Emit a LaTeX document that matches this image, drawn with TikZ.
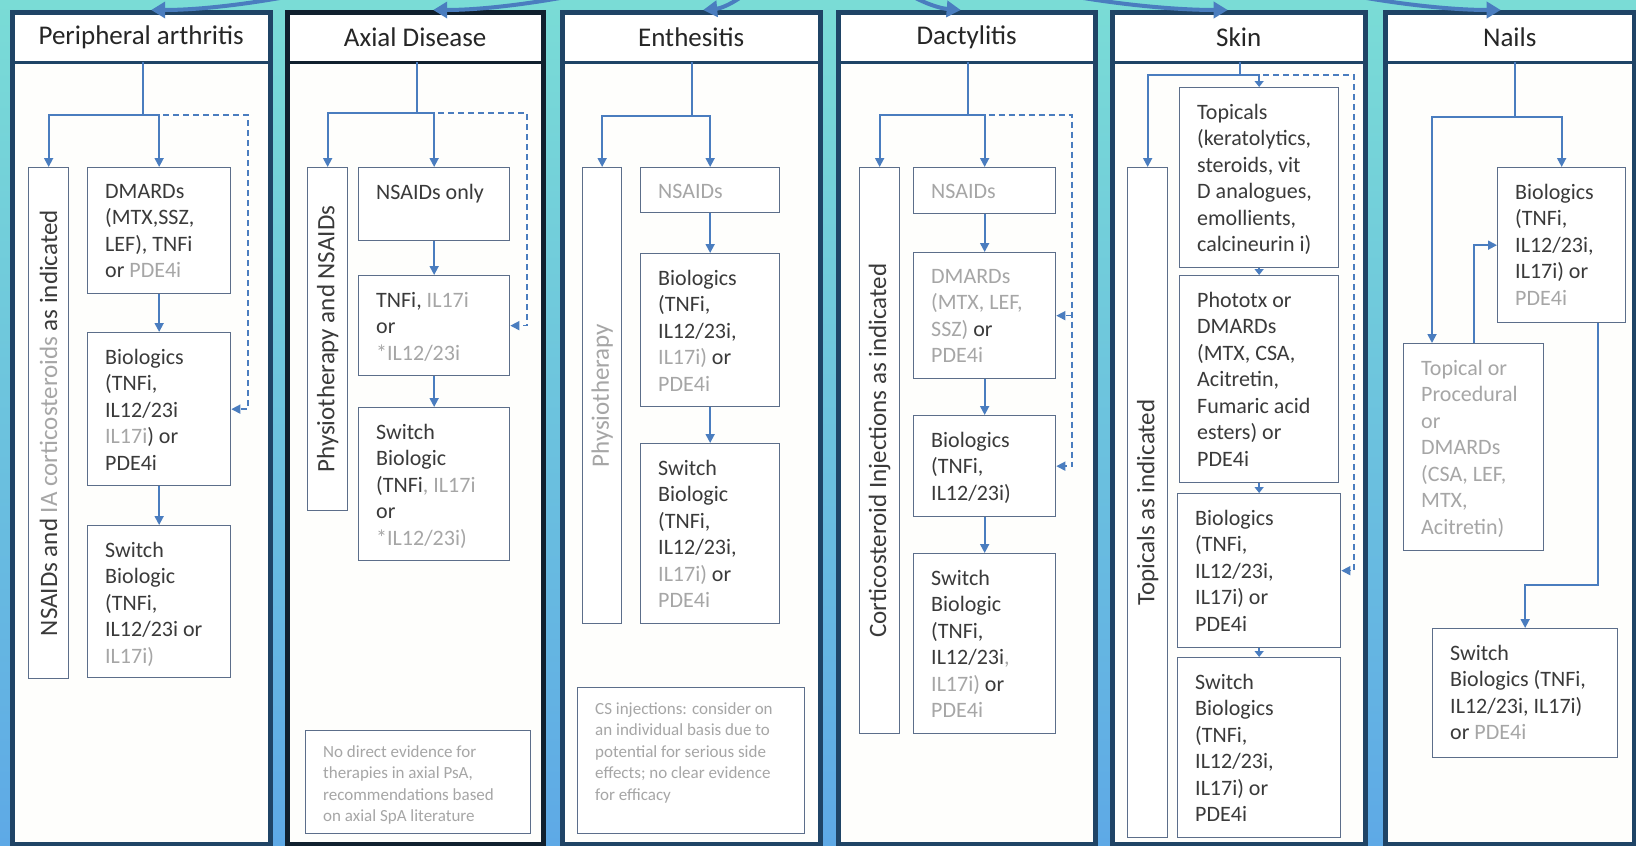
\documentclass[tikz,border=0pt]{standalone}
\usepackage{fontspec}
\setmainfont{Carlito}
\usetikzlibrary{arrows.meta,calc}
\definecolor{bgtop}{HTML}{7ADCD6}
\definecolor{bgbot}{HTML}{5EA9E6}
\definecolor{pnl}{HTML}{1F4466}
\definecolor{pnldark}{HTML}{10202E}
\definecolor{bxc}{HTML}{5C6E8A}
\definecolor{arc}{HTML}{4A7DBF}
\definecolor{tx}{HTML}{3A3A3A}
\definecolor{gr}{HTML}{A6A6A6}
\definecolor{body}{HTML}{FEFEFC}
\newcommand\tbox[6]{%
  \node[bx, minimum width={(#4)-(#2)}, minimum height={(#5)-(#3)}] (#1) at (#2,#3) {};
  \node[txt] (#1t) at ([xshift=18pt,yshift=-17pt]#1.north west) {#6};}
\newcommand\nbox[6]{%
  \node[bx, minimum width={(#4)-(#2)}, minimum height={(#5)-(#3)}] (#1) at (#2,#3) {};
  \node[notetxt] (#1t) at ([xshift=18pt,yshift=-15pt]#1.north west) {#6};}
\newcommand\vtbox[6]{%
  \node[bx, minimum width={(#4)-(#2)}, minimum height={(#5)-(#3)}] (#1) at (#2,#3) {};
  \node[vtxt] (#1t) at (#1.center) {#6};}
\newcommand\panel[5]{%
  \node[pbody, minimum width={(#3)-(#2)}, minimum height=832] (#1) at (#2,12) {};
  \node[hdr, minimum width={(#3)-(#2)}] (#1h) at (#2,12) {#4};
  \draw[draw=#5, line width=3pt] (#1h.south west) -- (#1h.south east);
  \draw[draw=#5, line width=5pt] (#1.north west) rectangle (#1.south east);}
\begin{document}
\begin{tikzpicture}[x=1pt,y=-1pt,
  pbody/.style={fill=body, anchor=north west, inner sep=0pt},
  hdr/.style={fill=white, anchor=north west, inner sep=0pt, minimum height=50pt, font=\fontsize{27}{32}\selectfont, text=black!85},
  bx/.style={draw=bxc, line width=1.3pt, fill=white, inner sep=0pt, anchor=north west},
  txt/.style={text=tx, font=\fontsize{22}{26.5}\selectfont, align=left, inner sep=0pt, anchor=north west},
  notetxt/.style={text=gr, font=\fontsize{17}{21.6}\selectfont, align=left, inner sep=0pt, anchor=north west},
  vtxt/.style={text=tx, font=\fontsize{25}{30}\selectfont, rotate=90, inner sep=0pt},
  ln/.style={draw=arc, line width=1.8pt},
  arr/.style={ln, -{Triangle[length=9pt,width=9pt]}},
  arrs/.style={ln, -{Triangle[length=6pt,width=9pt]}},
  darr/.style={draw=arc, line width=1.5pt, dash pattern=on 6pt off 4pt, -{Triangle[length=9pt,width=9pt]}},
  toparr/.style={draw=arc, line width=4pt, -{Triangle[length=14pt,width=16pt]}}]
\useasboundingbox (0,0) rectangle (1636,846);
\clip (0,0) rectangle (1636,846);
\shade[top color=bgtop, bottom color=bgbot] (0,0) rectangle (1636,846);

% panels
\panel{P1}{12}{270}{Peripheral arthritis}{pnl}
\panel{P2}{287}{543}{Axial Disease}{pnldark}
\panel{P3}{562}{820}{Enthesitis}{pnl}
\panel{P4}{838}{1095}{Dactylitis}{pnl}
\panel{P5}{1112}{1365}{Skin}{pnl}
\panel{P6}{1385}{1634}{Nails}{pnl}

% top arrows
\draw[toparr] (420,-35) .. controls (320,-5) and (220,10) .. ([xshift=10pt,yshift=2pt]P1h.north);
\draw[toparr] (700,-35) .. controls (600,-5) and (500,10) .. ([xshift=18pt,yshift=2pt]P2h.north);
\draw[toparr] (770,-30) .. controls (750,-5) and (725,8) .. ([xshift=12pt,yshift=2pt]P3h.north);
\draw[toparr] (880,-30) .. controls (900,-5) and (935,8) .. ([xshift=-6pt,yshift=2pt]P4h.north);
\draw[toparr] (950,-35) .. controls (1030,-5) and (1150,10) .. ([xshift=-11pt,yshift=2pt]P5h.north);
\draw[toparr] (1230,-35) .. controls (1320,-5) and (1430,10) .. ([xshift=-9pt,yshift=2pt]P6h.north);

% ---------- Panel 1
\vtbox{v1}{28}{167}{68}{678}{NSAIDs and \textcolor{gr}{IA corticosteroids} as indicated}
\tbox{b1a}{87}{167}{230}{293}{DMARDs\\(MTX,SSZ,\\LEF), TNFi\\or \textcolor{gr}{PDE4i}}
\tbox{b1b}{87}{332}{230}{485}{Biologics\\(TNFi,\\IL12/23i\\\textcolor{gr}{IL17i}) or\\PDE4i}
\tbox{b1c}{87}{525}{230}{677}{Switch\\Biologic\\(TNFi,\\IL12/23i or\\\textcolor{gr}{IL17i)}}
\coordinate (j1) at (143,115);
\draw[ln] (P1h.south -| j1) -- (j1);
\draw[arr] (j1) -| (v1.north);
\draw[arr] (j1) -| (b1a.north);
\draw[arr] (b1a) -- (b1b);
\draw[arr] (b1b) -- (b1c);
\coordinate (d1) at (248,115);
\draw[darr] ([xshift=4pt]b1a.north |- j1) -- (d1) |- (b1b.east);

% ---------- Panel 2
\vtbox{v2}{307}{167}{347}{510}{Physiotherapy and NSAIDs}
\tbox{b2a}{358}{167}{509}{240}{NSAIDs only}
\tbox{b2b}{358}{275}{509}{375}{TNFi, \textcolor{gr}{IL17i}\\or\\\textcolor{gr}{*IL12/23i}}
\tbox{b2c}{358}{407}{509}{560}{Switch\\Biologic\\(TNFi\textcolor{gr}{, IL17i}\\or\\\textcolor{gr}{*IL12/23i)}}
\nbox{n2}{305}{730}{530}{833}{No direct evidence for\\therapies in axial PsA,\\recommendations based\\on axial SpA literature}
\coordinate (j2) at (417,113);
\draw[ln] (P2h.south -| j2) -- (j2);
\draw[arr] (j2) -| (v2.north);
\draw[arr] (j2) -| (b2a.north);
\draw[arr] (b2a) -- (b2b);
\draw[arr] (b2b) -- (b2c);
\coordinate (d2) at (527,113);
\draw[darr] ([xshift=4pt]b2a.north |- j2) -- (d2) |- (b2b.east);

% ---------- Panel 3
\vtbox{v3}{582}{167}{621}{623}{\textcolor{gr}{Physiotherapy}}
\tbox{b3a}{640}{167}{779}{212}{\textcolor{gr}{NSAIDs}}
\tbox{b3b}{640}{253}{779}{406}{Biologics\\(TNFi,\\IL12/23i,\\\textcolor{gr}{IL17i)} or\\\textcolor{gr}{PDE4i}}
\tbox{b3c}{640}{443}{779}{623}{Switch\\Biologic\\(TNFi,\\IL12/23i,\\\textcolor{gr}{IL17i)} or\\\textcolor{gr}{PDE4i}}
\nbox{n3}{577}{687}{804}{833}{CS injections: consider on\\an individual basis due to\\potential for serious side\\effects; no clear evidence\\for efficacy}
\coordinate (j3) at (692,116);
\draw[ln] (P3h.south -| j3) -- (j3);
\draw[arr] (j3) -| (v3.north);
\draw[arr] (j3) -| (b3a.north);
\draw[arr] (b3a) -- (b3b);
\draw[arr] (b3b) -- (b3c);

% ---------- Panel 4
\vtbox{v4}{859}{167}{899}{733}{Corticosteroid Injections as indicated}
\tbox{b4a}{913}{167}{1055}{213}{\textcolor{gr}{NSAIDs}}
\tbox{b4b}{913}{252}{1055}{378}{\textcolor{gr}{DMARDs}\\\textcolor{gr}{(MTX, LEF,}\\\textcolor{gr}{SSZ)} or\\\textcolor{gr}{PDE4i}}
\tbox{b4c}{913}{415}{1055}{516}{Biologics\\(TNFi,\\IL12/23i)}
\tbox{b4d}{913}{553}{1055}{733}{Switch\\Biologic\\(TNFi,\\IL12/23i\textcolor{gr}{,}\\\textcolor{gr}{IL17i)} or\\\textcolor{gr}{PDE4i}}
\coordinate (j4) at (968,115);
\draw[ln] (P4h.south -| j4) -- (j4);
\draw[arr] (j4) -| (v4.north);
\draw[arr] (j4) -| (b4a.north);
\draw[arr] (b4a) -- (b4b);
\draw[arr] (b4b) -- (b4c);
\draw[arr] (b4c) -- (b4d);
\coordinate (d4) at (1072,115);
\draw[darr] ([xshift=4pt]b4a.north |- j4) -- (d4) |- (b4c.east);
\draw[darr] (d4 |- b4b.east) -- (b4b.east);

% ---------- Panel 5
\vtbox{v5}{1127}{167}{1167}{837}{Topicals as indicated}
\tbox{b5a}{1179}{87}{1338}{267}{Topicals\\(keratolytics,\\steroids, vit\\D analogues,\\emollients,\\calcineurin i)}
\tbox{b5b}{1179}{275}{1338}{482}{Phototx or\\DMARDs\\(MTX, CSA,\\Acitretin,\\Fumaric acid\\esters) or\\PDE4i}
\tbox{b5c}{1177}{493}{1340}{647}{Biologics\\(TNFi,\\IL12/23i,\\IL17i) or\\PDE4i}
\tbox{b5d}{1177}{657}{1340}{837}{Switch\\Biologics\\(TNFi,\\IL12/23i,\\IL17i) or\\PDE4i}
\coordinate (j5) at (1240,75);
\draw[ln] (P5h.south -| j5) -- (j5);
\draw[arr] (j5) -| (v5.north);
\draw[arrs] (j5) -| (b5a.north);
\draw[arrs] (b5a) -- (b5b);
\draw[arrs] (b5b) -- (b5c);
\draw[arrs] (b5c) -- (b5d);
\coordinate (d5) at (1354,75);
\draw[darr] ([xshift=4pt]b5a.north |- j5) -- (d5) |- (b5c.east);

% ---------- Panel 6
\tbox{b6a}{1497}{167}{1625}{322}{Biologics\\(TNFi,\\IL12/23i,\\IL17i) or\\\textcolor{gr}{PDE4i}}
\tbox{b6b}{1403}{343}{1543}{550}{\textcolor{gr}{Topical or}\\\textcolor{gr}{Procedural}\\\textcolor{gr}{or}\\\textcolor{gr}{DMARDs}\\\textcolor{gr}{(CSA, LEF,}\\\textcolor{gr}{MTX,}\\\textcolor{gr}{Acitretin)}}
\tbox{b6c}{1432}{628}{1617}{757}{Switch\\Biologics (TNFi,\\IL12/23i, IL17i)\\or \textcolor{gr}{PDE4i}}
\coordinate (j6) at (1515,117);
\draw[ln] (P6h.south -| j6) -- (j6);
\draw[arr] (j6) -| (b6a.north);
\draw[arr] (j6) -| ([xshift=29pt]b6b.north west);
\draw[arr] (b6b.north) |- (b6a.west);
\draw[arr] ([xshift=36pt]b6a.south) -- ++(0,262) -| (b6c.north);
\end{tikzpicture}
\end{document}
